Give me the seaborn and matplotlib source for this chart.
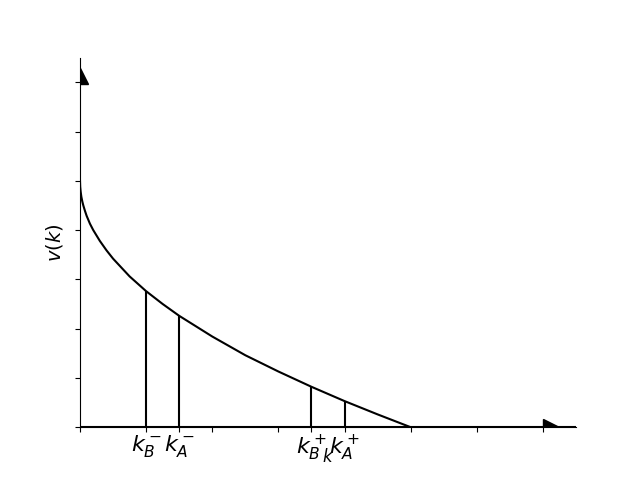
import matplotlib
matplotlib.use("Agg")
import matplotlib.pyplot as plt
import seaborn as sns
import pandas as pd

# curve v(k), values
k_curve = [0, 0.003, 0.01, 0.02, 0.035, 0.05, 0.075, 0.1, 0.15, 0.2, 0.3, 0.4,
           0.5, 0.75, 1.0, 1.25, 1.5, 2.0, 2.5, 3.0, 3.5, 4.0, 4.5, 5.0]
v_curve = [5.0, 4.88, 4.78, 4.68, 4.58, 4.5, 4.39, 4.29, 4.13, 4.0, 3.78, 3.59,
           3.42, 3.06, 2.76, 2.5, 2.26, 1.84, 1.46, 1.13, 0.82, 0.53, 0.26, 0.0]

# vertical markers and their tick labels
k_marks = [1.0, 1.5, 3.5, 4.0]
v_marks = [2.76, 2.25, 0.82, 0.53]
mark_labels = ['$k_B^-$', '$k_A^-$', '$k_B^+$', '$k_A^+$']

x_max = 7.5
y_max = 7.5

df = pd.DataFrame({'k': k_curve, 'v': v_curve})

fig, ax = plt.subplots(figsize=(6.4, 4.8), dpi=100)
sns.lineplot(data=df, x='k', y='v', sort=False, color='black', linewidth=1.5, ax=ax)
ax.vlines(k_marks, 0, v_marks, color='black', linewidth=1.5)
ax.axhline(0, color='black', linewidth=1.5)

ax.set_xlim(0, x_max)
ax.set_ylim(0, y_max)

# arrow heads at the ends of the axes
ax.plot(0.95 * x_max, 0, '>k', markersize=12)
ax.plot(0, 0.95 * y_max, '^k', markersize=12)

ax.spines['top'].set_visible(False)
ax.spines['right'].set_visible(False)

ax.set_xticks(k_marks)
ax.set_xticklabels(mark_labels, fontsize=16)
ax.tick_params(axis='x', which='major', pad=1)
ax.set_xticks(range(8), minor=True)
ax.tick_params(axis='x', which='minor', length=3.5, width=0.8)
ax.set_yticks(range(8))
ax.set_yticklabels([])

ax.set_xlabel('$k$', fontsize=12)
ax.xaxis.set_label_coords(0.5, -0.056)
ax.set_ylabel('$v(k)$', fontsize=14)

fig.savefig('out.png')
